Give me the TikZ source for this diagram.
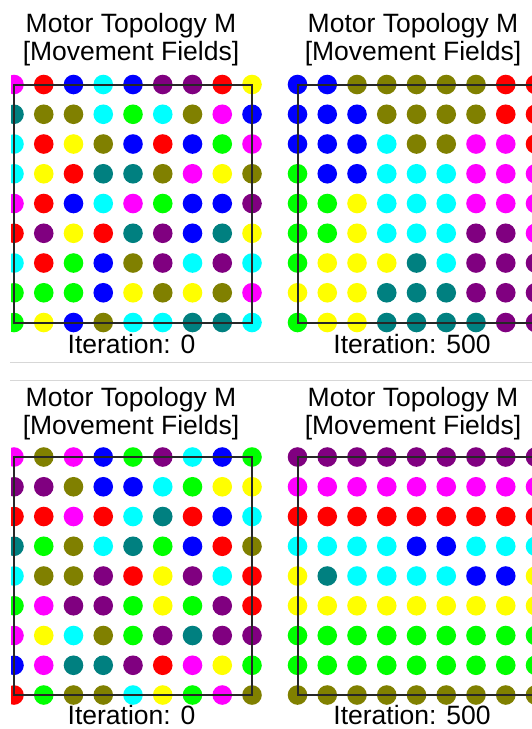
\documentclass[tikz,border=0pt]{standalone}
\usepackage{fontspec}
\setmainfont{Liberation Sans}

\definecolor{fcM}{RGB}{255,0,255}
\definecolor{fcR}{RGB}{255,0,0}
\definecolor{fcB}{RGB}{0,0,255}
\definecolor{fcC}{RGB}{0,255,255}
\definecolor{fcP}{RGB}{128,0,128}
\definecolor{fcO}{RGB}{128,128,0}
\definecolor{fcT}{RGB}{0,128,128}
\definecolor{fcY}{RGB}{255,255,0}
\definecolor{fcG}{RGB}{0,255,0}
\definecolor{rulegray}{RGB}{215,215,215}

\newcommand*{\cellgap}{29.75}
\newcommand*{\dotrad}{9.8}

% one movement field: top left corner, then the rows of colour codes
\newcommand*{\motorgrid}[3]{%
	\foreach \row [count=\j from 0] in {#3} {
		\foreach \c [count=\i from 0] in \row {
			\fill[fill=fc\c] (#1+\i*\cellgap,#2+\j*\cellgap) circle (\dotrad);
		}
	}
	\draw[fieldbox] (#1,#2) rectangle ++(8*\cellgap,8*\cellgap);
}

\begin{document}
\begin{tikzpicture}
[
	x=1pt,y=-1pt,
	fieldbox/.style={draw=black!85,line width=2pt},
	caption/.style={font=\fontsize{26.5}{28}\selectfont,inner sep=0pt,anchor=base},
	rule/.style={draw=rulegray,line width=1pt}
]

	\useasboundingbox (0,0) rectangle (532,729);
	\clip (0,0) rectangle (532,729);

	% top left, iteration 0
	\begin{scope}
		\clip (11,0) rectangle (290,729);
		\motorgrid{14}{84.5}{
			{M,R,B,C,B,P,P,R,Y},
			{T,O,O,C,G,C,O,M,B},
			{C,R,Y,O,B,R,B,G,M},
			{C,Y,R,T,T,O,M,Y,O},
			{M,R,B,C,M,G,B,B,P},
			{R,P,Y,R,T,P,B,T,Y},
			{C,R,G,B,O,P,C,P,C},
			{G,G,G,B,Y,O,Y,O,M},
			{G,Y,B,O,C,C,T,T,C}}
	\end{scope}
	\node[caption] (titleA) at (131,32) {Motor Topology M};
	\node[caption] (fieldsA) at (131,60) {[Movement Fields]};
	\node[caption] (iterA) at (131.5,353) {Iteration: 0};

	% top right, iteration 500
	\motorgrid{297.5}{84.5}{
		{B,B,O,O,O,O,O,R,R},
		{B,B,B,O,O,O,O,R,R},
		{B,B,B,C,O,O,M,M,R},
		{G,B,B,C,C,C,M,M,M},
		{G,G,Y,C,C,C,M,M,M},
		{G,G,Y,C,C,C,P,P,M},
		{G,Y,Y,Y,T,C,P,P,P},
		{Y,Y,Y,T,T,T,P,P,P},
		{G,Y,Y,T,T,T,T,P,P}}
	\node[caption] (titleB) at (413,32) {Motor Topology M};
	\node[caption] (fieldsB) at (413,60) {[Movement Fields]};
	\node[caption] (iterB) at (412,353) {Iteration: 500};

	% separators
	\draw[rule] (10,362.7) -- (532,362.7);
	\draw[rule] (10,380) -- (532,380);

	% bottom left, iteration 0
	\begin{scope}
		\clip (11,0) rectangle (290,729);
		\motorgrid{14}{457}{
			{M,O,M,B,G,P,C,B,G},
			{P,P,O,B,B,C,G,Y,Y},
			{R,R,M,R,C,T,R,B,C},
			{T,G,O,C,T,G,B,R,O},
			{C,O,O,P,R,Y,P,C,R},
			{G,M,P,P,G,Y,G,P,R},
			{M,Y,C,O,G,P,T,P,P},
			{B,M,T,T,P,R,M,Y,G},
			{R,G,O,O,C,Y,G,M,O}}
	\end{scope}
	\node[caption] (titleC) at (131,406) {Motor Topology M};
	\node[caption] (fieldsC) at (131,434) {[Movement Fields]};
	\node[caption] (iterC) at (131.5,724.5) {Iteration: 0};

	% bottom right, iteration 500
	\motorgrid{297.5}{457}{
		{P,P,P,P,P,P,P,P,P},
		{M,M,M,M,M,M,M,M,M},
		{R,R,R,R,R,R,R,R,R},
		{C,C,C,C,B,B,C,C,C},
		{Y,T,C,C,C,C,B,B,Y},
		{Y,Y,Y,Y,Y,Y,Y,Y,Y},
		{G,G,G,G,G,G,G,G,G},
		{G,G,G,G,G,G,G,G,G},
		{O,O,O,O,O,O,O,O,O}}
	\node[caption] (titleD) at (413,406) {Motor Topology M};
	\node[caption] (fieldsD) at (413,434) {[Movement Fields]};
	\node[caption] (iterD) at (412,724.5) {Iteration: 500};

\end{tikzpicture}
\end{document}
